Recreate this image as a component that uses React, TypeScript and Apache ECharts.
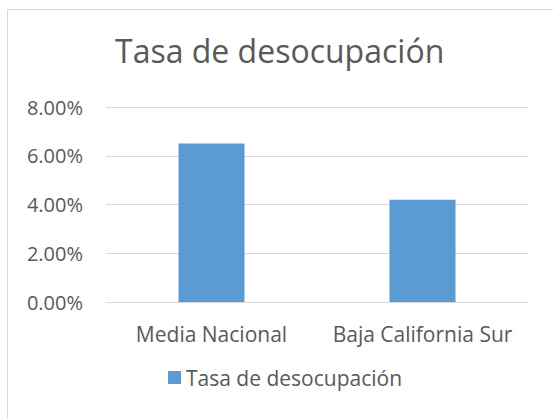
import React, { useEffect, useRef } from "react";
import * as echarts from "echarts";

const categories = ["Media Nacional", "Baja California Sur"];
const seriesName = "Tasa de desocupación";
const values = [0.065, 0.042];
const yTicks = { min: 0, max: 0.08, interval: 0.02 };
const titleText = "Tasa de desocupación";

const FONT = "'Open Sans', 'Noto Sans', sans-serif";
const TEXT = "#595959";

export default function App() {
  const ref = useRef<HTMLDivElement>(null);
  useEffect(() => {
    document.body.style.margin = "0";
    const chart = echarts.init(ref.current!, undefined, { renderer: "svg" });
    chart.setOption({
      animation: false,
      backgroundColor: "#ffffff",
      textStyle: { fontFamily: FONT },
      graphic: [
        {
          type: "rect",
          shape: { x: 7.5, y: 9.5, width: 600, height: 450 },
          style: { fill: "none", stroke: "#d9d9d9", lineWidth: 1 },
          silent: true,
        },
      ],
      title: {
        text: titleText,
        left: 115,
        top: 34,
        padding: 0,
        textStyle: { fontSize: 32, fontWeight: "normal", color: TEXT, fontFamily: FONT },
      },
      grid: { left: 106, right: 25, top: 107, bottom: 117 },
      legend: {
        left: 168,
        top: 367,
        padding: 0,
        icon: "rect",
        itemWidth: 13,
        itemHeight: 13,
        textStyle: { fontSize: 21, color: TEXT, fontFamily: FONT },
        data: [seriesName],
      },
      xAxis: {
        type: "category",
        data: categories,
        axisLine: { lineStyle: { color: "#d9d9d9", width: 1 } },
        axisTick: { show: false },
        axisLabel: { fontSize: 21, color: TEXT, margin: 21, fontFamily: FONT, interval: 0 },
      },
      yAxis: {
        type: "value",
        min: yTicks.min,
        max: yTicks.max,
        interval: yTicks.interval,
        axisLine: { show: false },
        axisTick: { show: false },
        splitLine: { lineStyle: { color: "#d9d9d9", width: 1 } },
        axisLabel: {
          fontSize: 20,
          color: TEXT,
          margin: 23,
          fontFamily: FONT,
          formatter: (v: number) => (v * 100).toFixed(2) + "%",
        },
      },
      series: [
        {
          name: seriesName,
          type: "bar",
          data: values,
          barWidth: 66,
          itemStyle: { color: "#5b9bd5" },
        },
      ],
    });
    return () => chart.dispose();
  }, []);
  return <div ref={ref} style={{ width: 553, height: 419 }} />;
}
